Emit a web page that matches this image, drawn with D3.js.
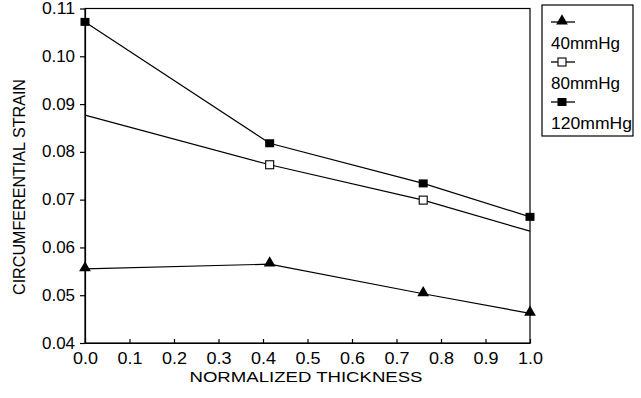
<!DOCTYPE html>
<html>
<head>
<meta charset="utf-8">
<script src="https://cdn.jsdelivr.net/npm/d3@7"></script>
<style>
  body { margin: 0; background: #fff; }
  text { font-family: "Liberation Sans", Arial, sans-serif; fill: #000; }
</style>
</head>
<body>
<div id="chart"></div>
<script>
// data
let thickness = [0.0, 0.415, 0.76, 1.0];
let strain40 = [0.0555, 0.0565, 0.0503, 0.0462];
let strain80 = [0.0877, 0.0773, 0.0699, 0.0634];
let strain120 = [0.1072, 0.0818, 0.0734, 0.0664];
let seriesNames = ['40mmHg', '80mmHg', '120mmHg'];
let xTicks = [0, 0.1, 0.2, 0.3, 0.4, 0.5, 0.6, 0.7, 0.8, 0.9, 1.0];
let yTicks = [0.04, 0.05, 0.06, 0.07, 0.08, 0.09, 0.10, 0.11];

let svgWidth = 641;
let svgHeight = 398;
let svg = d3.select('#chart').append('svg')
    .attr('width', svgWidth)
    .attr('height', svgHeight);

let x = d3.scaleLinear().domain([0, 1]).range([85, 530]);
let y = d3.scaleLinear().domain([0.04, 0.11]).range([343, 8.5]);

// frame
svg.append('rect')
    .attr('x', x(0)).attr('y', y(0.11))
    .attr('width', x(1) - x(0)).attr('height', y(0.04) - y(0.11))
    .attr('fill', 'none').attr('stroke', '#000').attr('stroke-width', 1.2);

let xAxis = svg.append('g')
    .attr('transform', 'translate(0,' + y(0.04) + ')')
    .call(d3.axisBottom(x).tickValues(xTicks).tickFormat(d3.format('.1f')).tickSizeInner(-4).tickSizeOuter(0).tickPadding(10));
let yAxis = svg.append('g')
    .attr('transform', 'translate(' + x(0) + ',0)')
    .call(d3.axisLeft(y).tickValues(yTicks).tickFormat(d3.format('.2f')).tickSizeInner(5).tickSizeOuter(0).tickPadding(5));
[xAxis, yAxis].forEach(function (a) {
    a.select('.domain').attr('stroke', '#000').attr('stroke-width', 1.2);
    a.selectAll('.tick line').attr('stroke', '#000').attr('stroke-width', 1.2);
    a.selectAll('.tick text').style('font-size', '16px')
        .style('font-family', '"Liberation Sans", Arial, sans-serif').attr('fill', '#000')
        .attr('lengthAdjust', 'spacingAndGlyphs');
});
// the printed digits are a bit wider than the font
xAxis.selectAll('.tick text').attr('textLength', 25);
yAxis.selectAll('.tick text').attr('textLength', 33);

svg.append('text')
    .attr('x', 306).attr('y', 382)
    .attr('text-anchor', 'middle').style('font-size', '15.5px')
    .attr('textLength', 233).attr('lengthAdjust', 'spacingAndGlyphs')
    .text('NORMALIZED THICKNESS');
svg.append('text')
    .attr('transform', 'translate(25,187) rotate(-90)')
    .attr('text-anchor', 'middle').style('font-size', '16px')
    .attr('textLength', 216).attr('lengthAdjust', 'spacingAndGlyphs')
    .text('CIRCUMFERENTIAL STRAIN');

let lineFunction = d3.line()
    .x(function (d) { return x(d.x); })
    .y(function (d) { return y(d.y); });

function toPoints(values) {
    return values.map(function (v, i) { return { x: thickness[i], y: v }; });
}

function drawMarker(g, type, cx, cy) {
    if (type == 'triangle') {
        g.append('path')
            .attr('d', d3.symbol().type(d3.symbolTriangle).size(60)())
            .attr('transform', 'translate(' + cx + ',' + (cy - 1) + ')')
            .attr('fill', '#000');
    } else if (type == 'open') {
        g.append('rect')
            .attr('x', cx - 4).attr('y', cy - 4).attr('width', 8).attr('height', 8)
            .attr('fill', '#fff').attr('stroke', '#000').attr('stroke-width', 1.1);
    } else {
        g.append('rect')
            .attr('x', cx - 4.5).attr('y', cy - 4).attr('width', 9).attr('height', 8)
            .attr('fill', '#000');
    }
}

let series = [
    { name: seriesNames[0], values: strain40, marker: 'triangle', show: [0, 1, 2, 3] },
    { name: seriesNames[1], values: strain80, marker: 'open', show: [1, 2] },
    { name: seriesNames[2], values: strain120, marker: 'filled', show: [0, 1, 2, 3] }
];

series.forEach(function (s) {
    let g = svg.append('g');
    let pts = toPoints(s.values);
    g.append('path')
        .attr('d', lineFunction(pts))
        .attr('fill', 'none').attr('stroke', '#000').attr('stroke-width', 1.2);
    s.show.forEach(function (i) {
        drawMarker(g, s.marker, x(pts[i].x), y(pts[i].y));
    });
});

// legend
let legend = svg.append('g');
legend.append('rect')
    .attr('x', 542).attr('y', 5).attr('width', 91).attr('height', 131)
    .attr('fill', '#fff').attr('stroke', '#000').attr('stroke-width', 1.2);
let legendTextLen = [69, 69, 81];
series.forEach(function (s, i) {
    let ly = 22 + i * 40;
    legend.append('line')
        .attr('x1', 551).attr('x2', 575).attr('y1', ly).attr('y2', ly)
        .attr('stroke', '#000').attr('stroke-width', 1.3);
    drawMarker(legend, s.marker, 562, ly);
    legend.append('text')
        .attr('x', 551).attr('y', ly + 27)
        .style('font-size', '16px')
        .attr('textLength', legendTextLen[i]).attr('lengthAdjust', 'spacingAndGlyphs')
        .text(s.name);
});
</script>
</body>
</html>
